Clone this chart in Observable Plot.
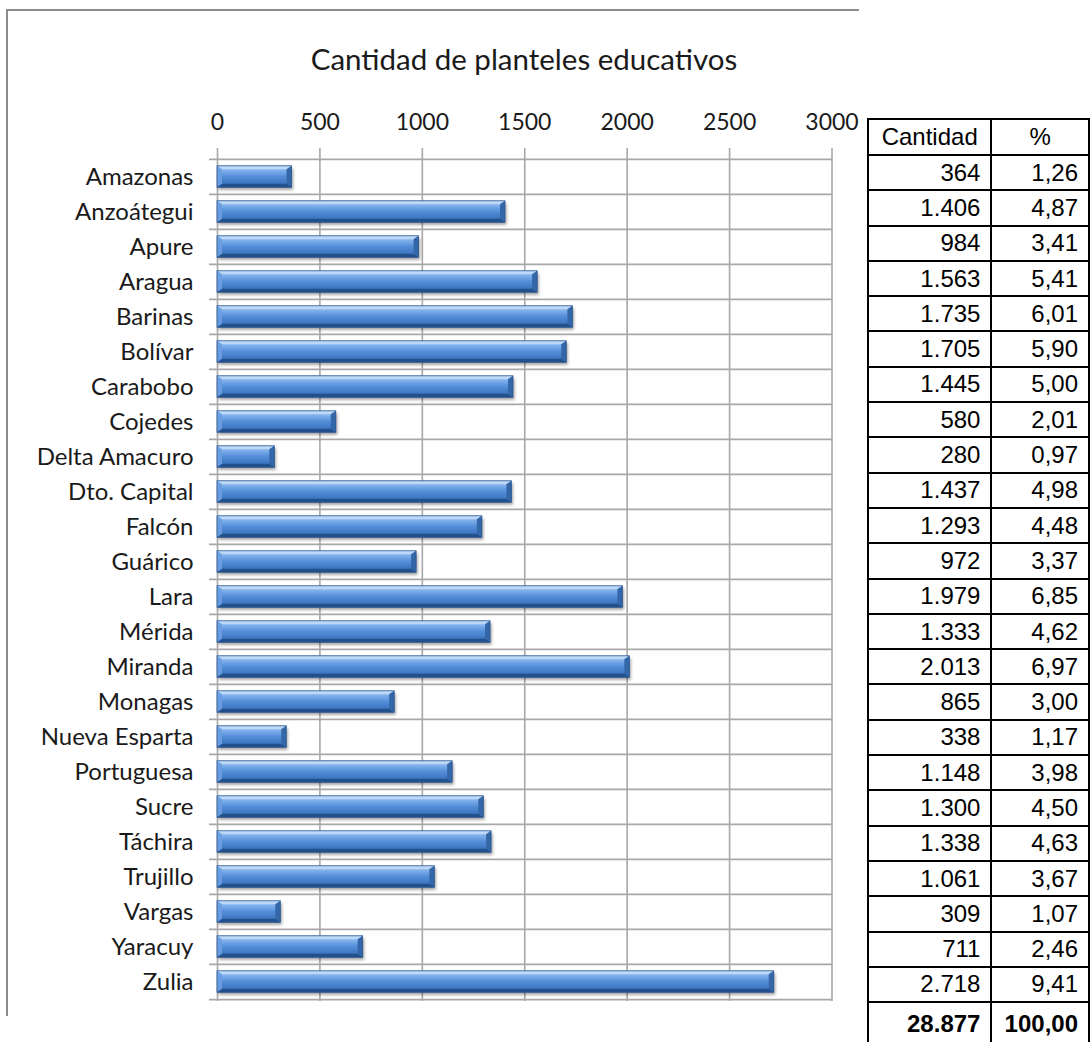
<!DOCTYPE html>
<html>
<head>
<meta charset="utf-8">
<script src="https://cdn.jsdelivr.net/npm/d3@7"></script>
<script src="https://cdn.jsdelivr.net/npm/@observablehq/plot@0.6"></script>
<style>
  html, body { margin: 0; padding: 0; background: #fff; }
  #wrap { position: relative; width: 1090px; height: 1042px; overflow: hidden; background: #fff; }
  #frame { position: absolute; left: 6px; top: 9px; width: 851px; height: 1005px;
           border-top: 2px solid #8c8c8c; border-left: 2px solid #8c8c8c; }
  #chart { position: absolute; left: 0; top: 0; }
  #title { position: absolute; left: 224px; width: 600px; top: 44px; text-align: center;
           font-family: Lato, sans-serif; font-size: 29.5px; line-height: 30px; color: #1a1a1a; white-space: nowrap; }
  #tbl { position: absolute; left: 867px; top: 118px; border-collapse: collapse; table-layout: fixed;
         font-family: "Liberation Sans", Arial, sans-serif; font-size: 24px; color: #000; }
  #tbl td { border: 2px solid #000; padding: 0 10px; box-sizing: border-box; line-height: 24px; }
  #tbl td.num { text-align: right; }
  #tbl tr.head td { text-align: center; height: 36px; }
  #tbl tr.row td { height: 35.3px; }
  #tbl tr.total td { font-weight: bold; height: 44px; }
</style>
</head>
<body>
<div id="wrap">
  <div id="frame"></div>
  <div id="chart"></div>
  <div id="title"></div>
</div>
<script>
// ---- data ----
const title = "Cantidad de planteles educativos";
const categories = ["Amazonas", "Anzoátegui", "Apure", "Aragua", "Barinas", "Bolívar", "Carabobo",
  "Cojedes", "Delta Amacuro", "Dto. Capital", "Falcón", "Guárico", "Lara", "Mérida", "Miranda",
  "Monagas", "Nueva Esparta", "Portuguesa", "Sucre", "Táchira", "Trujillo", "Vargas", "Yaracuy", "Zulia"];
const counts = [364, 1406, 984, 1563, 1735, 1705, 1445, 580, 280, 1437, 1293, 972, 1979, 1333, 2013,
  865, 338, 1148, 1300, 1338, 1061, 309, 711, 2718];
const percents = [1.26, 4.87, 3.41, 5.41, 6.01, 5.90, 5.00, 2.01, 0.97, 4.98, 4.48, 3.37, 6.85, 4.62, 6.97,
  3.00, 1.17, 3.98, 4.50, 4.63, 3.67, 1.07, 2.46, 9.41];
const totalCount = 28877;
const totalPercent = 100.00;
const tableHeaders = ["Cantidad", "%"];
const xTicks = [0, 500, 1000, 1500, 2000, 2500, 3000];

// ---- layout ----
const W = 1090, H = 1042;
const yTop = 156.5, yBottom = 1001;
const bw = (yBottom - yTop) / categories.length;

const data = categories.map((name, i) => ({name, value: counts[i]}));

const svg = Plot.plot({
  width: W, height: H,
  marginTop: 148, marginBottom: H - yBottom, marginLeft: 209, marginRight: W - 832,
  style: {fontFamily: "Lato, sans-serif", background: "transparent", color: "#1a1a1a"},
  x: {domain: [0, 3000], range: [217, 831.5], label: null},
  y: {domain: categories, range: [yTop, yBottom], padding: 0, label: null},
  marks: [
    Plot.ruleX(xTicks, {stroke: "#a8a8a8", strokeWidth: 1.6}),
    Plot.ruleY(categories, {dy: -bw / 2, stroke: "#a8a8a8", strokeWidth: 1.6}),
    Plot.ruleY(categories.slice(-1), {dy: bw / 2, stroke: "#a8a8a8", strokeWidth: 1.6}),
    Plot.barX(data, {x: "value", y: "name", insetTop: 6.8, insetBottom: 6.8, fill: "url(#barFace)"}),
    Plot.axisX({anchor: "top", ticks: xTicks, tickSize: 0, tickPadding: 19, fontSize: 23,
      tickFormat: d => String(d), fill: "#1a1a1a", label: null}),
    Plot.axisY({anchor: "left", tickSize: 0, tickPadding: 16, fontSize: 24, fill: "#1a1a1a", label: null})
  ]
});

// defs for gradient / shadow
const root = d3.select(svg);
root.insert("defs", ":first-child").html(`
  <linearGradient id="barFace" x1="0" y1="0" x2="0" y2="1">
    <stop offset="0" stop-color="#a3c9f3"/>
    <stop offset="0.18" stop-color="#86b5ee"/>
    <stop offset="0.5" stop-color="#548ed9"/>
    <stop offset="0.82" stop-color="#3e76c0"/>
    <stop offset="1" stop-color="#2d5f9f"/>
  </linearGradient>
  <filter id="barShadow" x="-5%" y="-40%" width="115%" height="200%">
    <feGaussianBlur stdDeviation="1.8"/>
  </filter>`);

// bevel decorations on each bar, from the library-computed rects
root.selectAll('g[aria-label="bar"] rect').each(function () {
  const r = d3.select(this);
  const x = +r.attr("x"), y = +r.attr("y"), w = +r.attr("width"), h = +r.attr("height");
  const p = d3.select(this.parentNode);
  const b = Math.min(5, w / 2), t = 3.5;
  p.insert("rect", () => this)
    .attr("x", x + 1.5).attr("y", y + 2.5).attr("width", w).attr("height", h)
    .attr("fill", "#000").attr("fill-opacity", 0.38).attr("filter", "url(#barShadow)");
  const poly = (pts, fill, op = 1) => p.append("polygon")
    .attr("points", pts.map(d => d.join(",")).join(" ")).attr("fill", fill).attr("fill-opacity", op);
  poly([[x, y], [x + w, y], [x + w - b, y + t], [x + b, y + t]], "#c2dbf7", 0.9);
  poly([[x, y + h], [x + w, y + h], [x + w - b, y + h - t], [x + b, y + h - t]], "#224f8a", 0.95);
  poly([[x + w, y], [x + w, y + h], [x + w - b, y + h - t], [x + w - b, y + t]], "#3367a8", 1);
  poly([[x, y], [x, y + h], [x + b, y + h - t], [x + b, y + t]], "#6a9fe2", 0.9);
  p.append("rect").attr("x", x).attr("y", y).attr("width", w).attr("height", h)
    .attr("fill", "none").attr("stroke", "#2a5590").attr("stroke-width", 0.8);
});

document.getElementById("chart").appendChild(svg);
document.getElementById("title").textContent = title;

// ---- table ----
const fmtInt = d3.formatLocale({decimal: ",", thousands: ".", grouping: [3], currency: ["", ""]}).format(",d");
const fmtPct = d => d.toFixed(2).replace(".", ",");
const tbl = d3.select("#wrap").append("table").attr("id", "tbl");
const cg = tbl.append("colgroup");
cg.append("col").style("width", "127px");
cg.append("col").style("width", "99px");
const head = tbl.append("tr").attr("class", "head");
tableHeaders.forEach(h => head.append("td").text(h));
categories.forEach((c, i) => {
  const tr = tbl.append("tr").attr("class", "row");
  tr.append("td").attr("class", "num").text(fmtInt(counts[i]));
  tr.append("td").attr("class", "num").text(fmtPct(percents[i]));
});
const tot = tbl.append("tr").attr("class", "total");
tot.append("td").attr("class", "num").text(fmtInt(totalCount));
tot.append("td").attr("class", "num").text(fmtPct(totalPercent));
</script>
</body>
</html>
